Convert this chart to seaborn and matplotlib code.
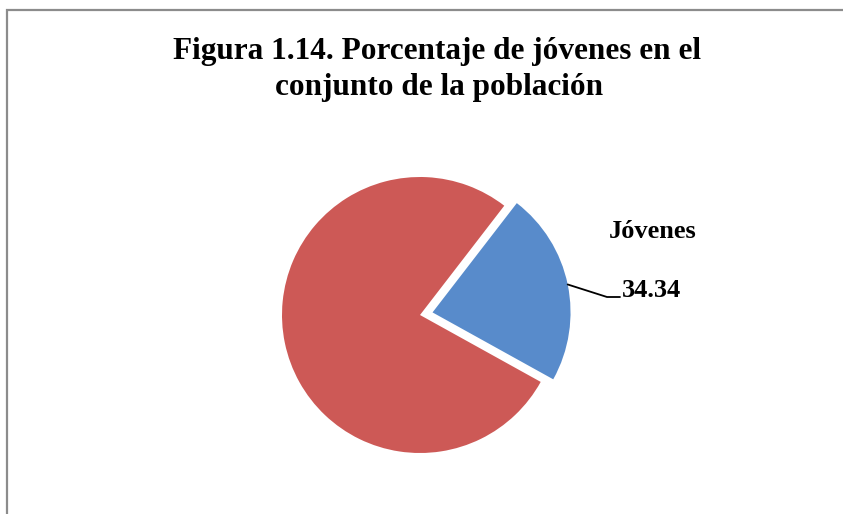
import numpy as np
import matplotlib
matplotlib.use("Agg")
import matplotlib.pyplot as plt
import seaborn as sns
from matplotlib.patches import Rectangle

# Data
categorias = ["Jóvenes", "Resto"]
valores = [34.34, 117.6]
colores = ["#588BCB", "#CD5956"]
explosion = [12.8, 0]

sns.set_theme(style="white")
plt.rcParams['font.family'] = ['Liberation Serif', 'DejaVu Serif']
plt.rcParams['text.color'] = 'black'

W, H = 843, 514
fig = plt.figure(figsize=(W / 100, H / 100), dpi=100)
# axes covering the figure, one data unit = one pixel
ax = fig.add_axes([0, 0, 1, 1])

# chart border (runs off the right and bottom edges)
fig.patches.append(Rectangle((6.5 / W, -0.1), 1.2, (H - 9.5) / H + 0.1,
                             transform=fig.transFigure, fill=False,
                             edgecolor="#8c8c8c", linewidth=1.6))

cx, cy, r = 420, H - 315, 138
wedges, _ = ax.pie(valores, colors=colores, explode=explosion, startangle=-29,
                   counterclock=True, center=(cx, cy), radius=r,
                   wedgeprops=dict(linewidth=0), frame=True)
ax.set_xlim(0, W)
ax.set_ylim(0, H)
ax.set_axis_off()

# leader line and label for the Jóvenes slice
w = wedges[0]
tm = np.deg2rad((w.theta1 + w.theta2) / 2)
wx, wy = w.center
x0, y0 = wx + w.r * np.cos(tm), wy + w.r * np.sin(tm)
x1, y1 = 607, H - 297
ax.plot([x0, x1, x1 + 13], [y0, y1, y1], color="black", lw=1.3)

ax.text(653, H - 237.7, categorias[0], ha="center", va="baseline",
        fontsize=19, fontweight="bold", color="black")
ax.text(651.7, H - 297.3, f"{valores[0]:.2f}", ha="center", va="baseline",
        fontsize=19, fontweight="bold", color="black")

fig.text(437 / W, 1 - 59.3 / H, "Figura 1.14. Porcentaje de jóvenes en el",
         ha="center", va="baseline", fontsize=22.5, fontweight="bold")
fig.text(439 / W, 1 - 95 / H, "conjunto de la población",
         ha="center", va="baseline", fontsize=22.5, fontweight="bold")

fig.savefig("out.png", dpi=100)
